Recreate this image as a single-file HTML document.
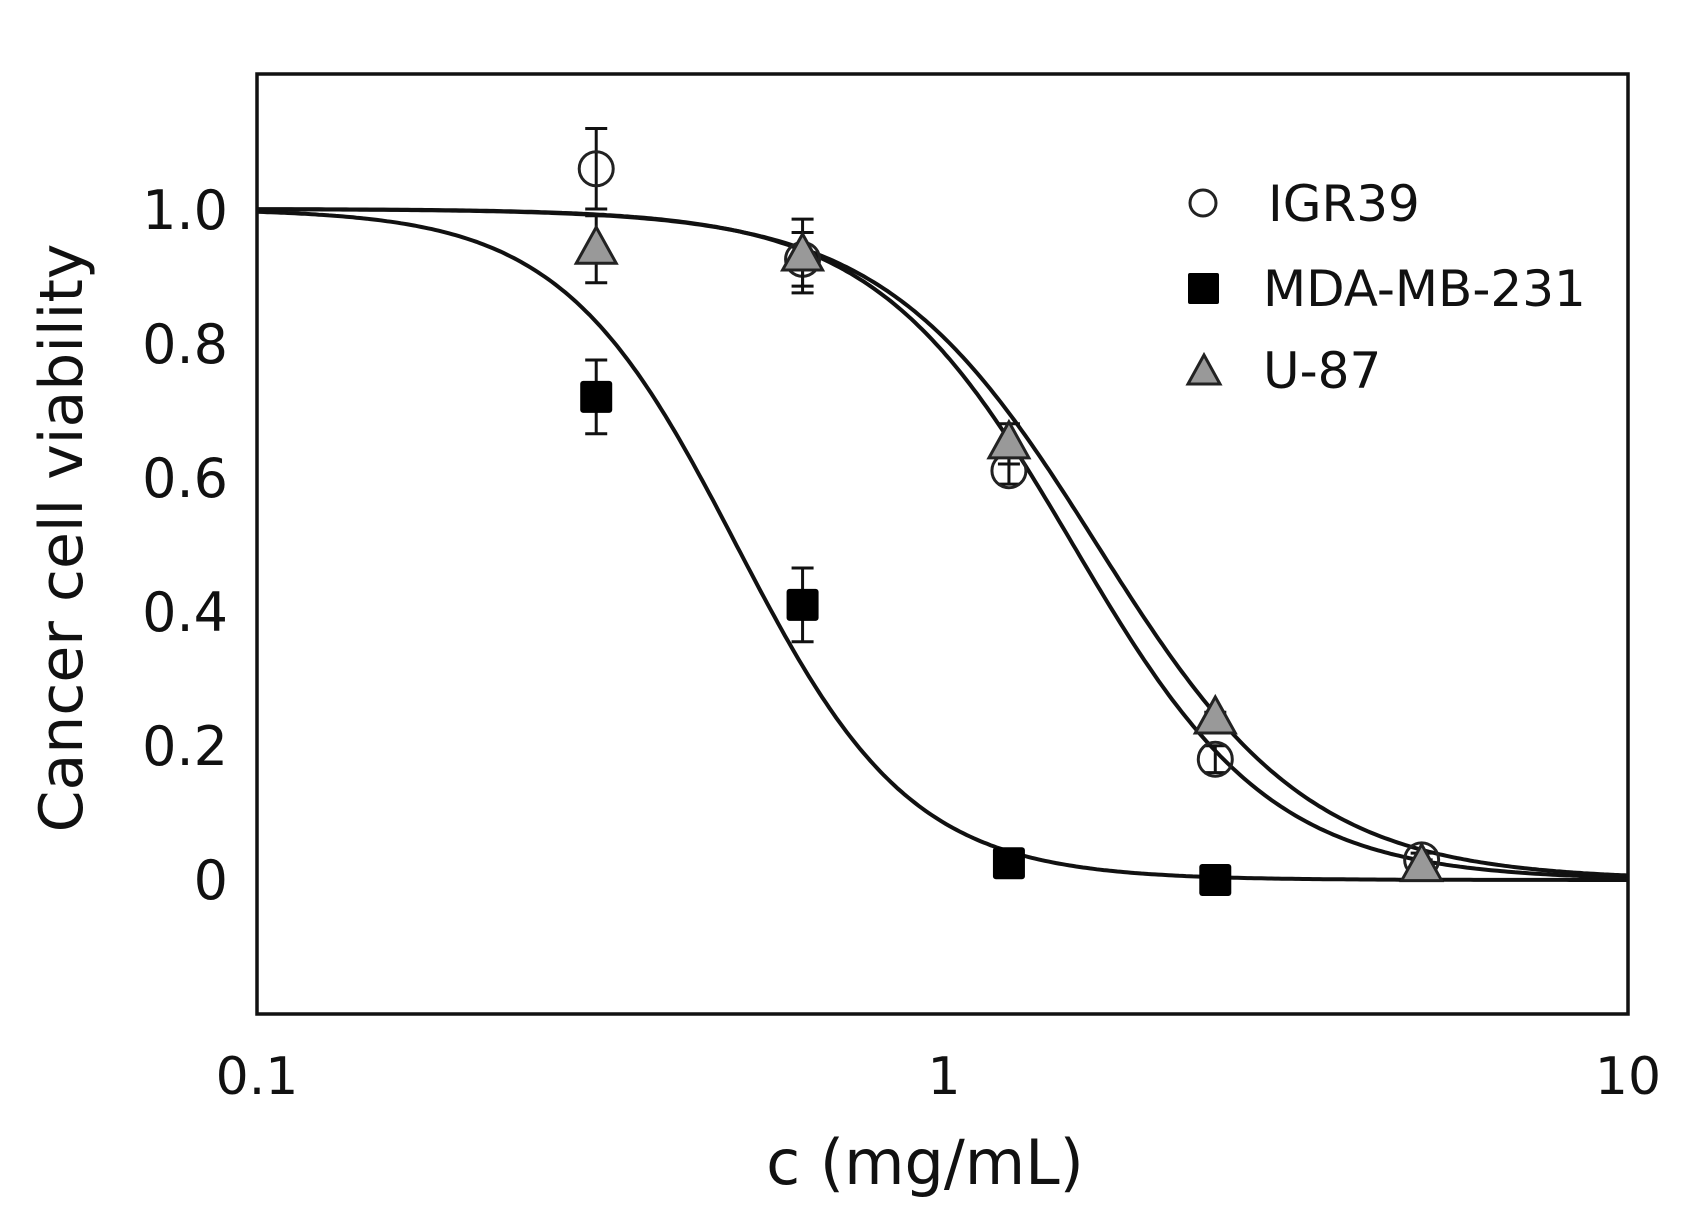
<!DOCTYPE html>
<html><head><meta charset="utf-8"><style>
html,body{margin:0;padding:0;background:#fff;}
svg{display:block;}
text{font-family:"DejaVu Sans","Liberation Sans",sans-serif;fill:#111;}
</style></head><body>
<svg id="s" width="1688" height="1220" viewBox="0 0 1688 1220" xmlns="http://www.w3.org/2000/svg">
<rect x="0" y="0" width="1688" height="1220" fill="#fff"/>
<rect x="257" y="74" width="1371" height="940" fill="none" stroke="#111" stroke-width="3.5"/>
<g font-size="54" text-anchor="end">
<text x="228" y="229">1.0</text>
<text x="228" y="363">0.8</text>
<text x="228" y="497">0.6</text>
<text x="228" y="631">0.4</text>
<text x="228" y="765">0.2</text>
<text x="228" y="899">0</text>
</g>
<g font-size="52" text-anchor="middle">
<text x="257" y="1094">0.1</text>
<text x="944" y="1094">1</text>
<text x="1628" y="1094">10</text>
</g>
<text x="925" y="1184" font-size="62" text-anchor="middle">c (mg/mL)</text>
<text transform="translate(82,538) rotate(-90)" font-size="60" text-anchor="middle">Cancer cell viability</text>
<g id="curves" fill="none" stroke="#111" stroke-width="4"></g>
<g id="pts"></g>
<g font-size="50">
<circle cx="1203" cy="203" r="13" fill="#fff" stroke="#222" stroke-width="3"/>
<text x="1268" y="221">IGR39</text>
<rect x="1188" y="273" width="31" height="31" fill="#000" rx="2"/>
<text x="1263" y="306">MDA-MB-231</text>
<polygon points="1204,355 1220,384 1188,384" fill="#999" stroke="#222" stroke-width="3"/>
<text x="1263" y="388">U-87</text>
</g>
</svg>
<script>
var L=257,R=1628,y0=880,k=671;
function X(c){return L+(Math.log10(c)+1)/2*(R-L);}
function Y(v){return y0-v*k;}
function hill(c,ic,n){return 1/(1+Math.pow(c/ic,n));}
var cur=document.getElementById('curves'),pts=document.getElementById('pts');
var fits=[[0.5,3.4],[1.55,3.0],[1.68,2.8]];
var s='';
fits.forEach(function(f){var d='';for(var i=0;i<=400;i++){var lc=-1+2*i/400,c=Math.pow(10,lc);d+=(i?'L':'M')+X(c).toFixed(1)+','+Y(hill(c,f[0],f[1])).toFixed(1);}s+='<path d="'+d+'"/>';});
cur.innerHTML=s;
var cs=[0.3125,0.625,1.25,2.5,5];
var igr=[[1.06,0.06],[0.925,0.04],[0.61,0.02],[0.18,0.02],[0.03,0.01]];
var mda=[[0.72,0.055],[0.41,0.055],[0.025,0],[0.0,0]];
var u87=[[0.94,0.05],[0.93,0.055],[0.65,0.03],[0.24,0.01],[0.02,0.01]];
var h='';
function eb(x,v,e){if(e<=0)return'';var a=Y(v+e),b=Y(v-e);return '<g stroke="#111" stroke-width="3"><line x1="'+x+'" y1="'+a+'" x2="'+x+'" y2="'+b+'"/><line x1="'+(x-11)+'" y1="'+a+'" x2="'+(x+11)+'" y2="'+a+'"/><line x1="'+(x-11)+'" y1="'+b+'" x2="'+(x+11)+'" y2="'+b+'"/></g>';}
igr.forEach(function(p,i){var x=X(cs[i]);h+=eb(x,p[0],p[1]);h+='<circle cx="'+x+'" cy="'+Y(p[0])+'" r="17" fill="none" stroke="#222" stroke-width="3"/>';});
mda.forEach(function(p,i){var x=X(cs[i]);h+=eb(x,p[0],p[1]);h+='<rect x="'+(x-16)+'" y="'+(Y(p[0])-16)+'" width="32" height="32" rx="3" fill="#000"/>';});
u87.forEach(function(p,i){var x=X(cs[i]),y=Y(p[0]);h+=eb(x,p[0],p[1]);h+='<polygon points="'+x+','+(y-22)+' '+(x+20)+','+(y+14)+' '+(x-20)+','+(y+14)+'" fill="#999" stroke="#222" stroke-width="3"/>';});
pts.innerHTML=h;
</script>
</body></html>
